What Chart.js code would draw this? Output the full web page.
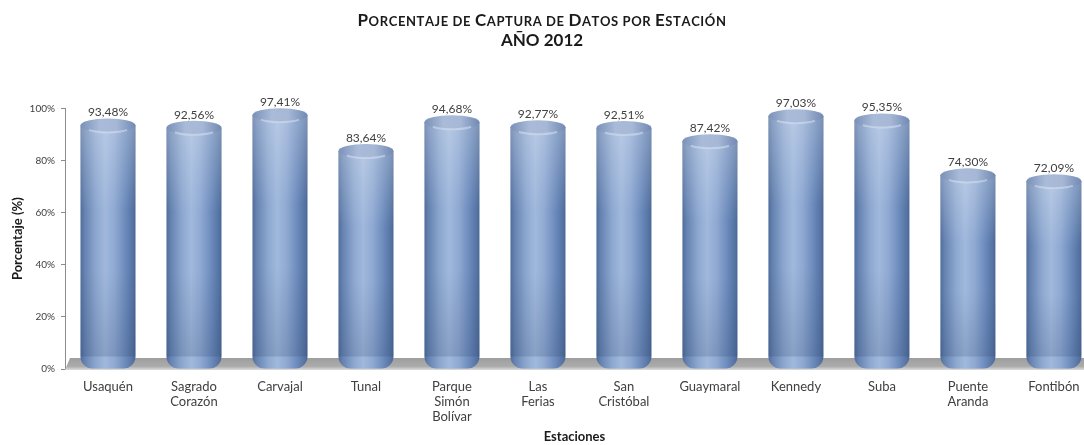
<!DOCTYPE html>
<html>
<head>
<meta charset="utf-8">
<script src="https://cdn.jsdelivr.net/npm/chart.js@4.4.1/dist/chart.umd.min.js"></script>
<style>
html,body{margin:0;padding:0;background:#fff;overflow:hidden;}
#wrap{width:1084px;height:445px;}
</style>
</head>
<body>
<div id="wrap"><canvas id="c" width="1084" height="445"></canvas></div>
<script>
const categories = ['Usaquén', ['Sagrado','Corazón'], 'Carvajal', 'Tunal', ['Parque','Simón','Bolívar'], ['Las','Ferias'], ['San','Cristóbal'], 'Guaymaral', 'Kennedy', 'Suba', ['Puente','Aranda'], 'Fontibón'];
const captura = [93.48, 92.56, 97.41, 83.64, 94.68, 92.77, 92.51, 87.42, 97.03, 95.35, 74.30, 72.09];
const yTicks = [0, 20, 40, 60, 80, 100];
const titleText = 'Porcentaje de Captura de Datos por Estación';
const subtitleText = 'AÑO 2012';
const xTitle = 'Estaciones';
const yTitle = 'Porcentaje (%)';

const FONT = 'Lato';
const CAP_RY = 7;
const BAR_FRAC = 0.64;

function fmt(v){ return v.toFixed(2).replace('.', ',') + '%'; }

function barGradient(ctx, x0, x1){
  const g = ctx.createLinearGradient(x0, 0, x1, 0);
  g.addColorStop(0, '#4f6d9b');
  g.addColorStop(0.08, '#6683b1');
  g.addColorStop(0.28, '#8ca7cf');
  g.addColorStop(0.45, '#a0b8dc');
  g.addColorStop(0.62, '#8fa9d2');
  g.addColorStop(0.82, '#6b8abb');
  g.addColorStop(0.95, '#5574a4');
  g.addColorStop(1, '#4a6794');
  return g;
}

// Small-caps title drawn as real text
const titlePlugin = {
  id: 'scTitle',
  afterDraw(chart){
    const {ctx} = chart;
    const big = 17, small = 13, spacing = 0.6;
    const runs = [];
    for (const ch of titleText) {
      const up = ch.toUpperCase();
      const size = (ch === up && ch !== ch.toLowerCase()) ? big : small;
      const last = runs[runs.length - 1];
      if (last && last.size === size) last.text += up; else runs.push({text: up, size});
    }
    ctx.save();
    ctx.fillStyle = '#1a1a1a';
    ctx.textBaseline = 'alphabetic';
    ctx.textAlign = 'left';
    let total = 0;
    runs.forEach(r => {
      ctx.font = 'bold ' + r.size + 'px ' + FONT;
      r.chars = [...r.text].map(c => ({c, w: ctx.measureText(c).width + spacing}));
      r.w = r.chars.reduce((a, b) => a + b.w, 0);
      total += r.w;
    });
    let x = chart.width / 2 - total / 2;
    runs.forEach(r => {
      ctx.font = 'bold ' + r.size + 'px ' + FONT;
      r.chars.forEach(o => { ctx.fillText(o.c, x, 25.5); x += o.w; });
    });
    ctx.restore();
  }
};

const floorPlugin = {
  id: 'floor',
  beforeDatasetsDraw(chart){
    const {ctx, chartArea, scales} = chart;
    const y0 = scales.y.getPixelForValue(0);
    ctx.save();
    const g = ctx.createLinearGradient(0, y0 - 11, 0, y0 + 1);
    g.addColorStop(0, '#9e9e9e');
    g.addColorStop(0.7, '#ababab');
    g.addColorStop(0.85, '#c4c4c4');
    g.addColorStop(1, '#dcdcdc');
    ctx.fillStyle = g;
    ctx.beginPath();
    ctx.moveTo(chartArea.left + 5, y0 - 11);
    ctx.lineTo(chartArea.right, y0 - 11);
    ctx.lineTo(chartArea.right, y0 + 1);
    ctx.lineTo(chartArea.left, y0 + 1);
    ctx.closePath();
    ctx.fill();
    ctx.restore();
  }
};

const cylinderPlugin = {
  id: 'cylinder',
  afterDatasetsDraw(chart){
    const {ctx} = chart;
    const meta = chart.getDatasetMeta(0);
    ctx.save();
    meta.data.forEach((el, i) => {
      const x = el.x, y = el.y, w = el.width, base = el.base;
      const left = x - w/2, right = x + w/2;
      const vg = ctx.createLinearGradient(0, y, 0, base);
      vg.addColorStop(0, 'rgba(235,240,248,0.30)');
      vg.addColorStop(0.35, 'rgba(235,240,248,0.0)');
      vg.addColorStop(0.6, 'rgba(30,50,90,0.0)');
      vg.addColorStop(1, 'rgba(30,50,90,0.2)');
      ctx.fillStyle = vg;
      ctx.fillRect(left, y, w, base - y - 12);
      const cg = ctx.createLinearGradient(left, 0, right, 0);
      cg.addColorStop(0, '#7990b8');
      cg.addColorStop(0.35, '#a9bbd8');
      cg.addColorStop(0.65, '#a6b8d6');
      cg.addColorStop(1, '#7189b3');
      ctx.fillStyle = cg;
      ctx.beginPath();
      ctx.ellipse(x, y, w/2, CAP_RY, 0, 0, Math.PI * 2);
      ctx.fill();
      ctx.strokeStyle = 'rgba(215,226,244,0.55)';
      ctx.lineWidth = 2;
      ctx.beginPath();
      ctx.ellipse(x, y + 1, w/2 - 4, CAP_RY - 1, 0, 0.2 * Math.PI, 0.8 * Math.PI);
      ctx.stroke();
      ctx.fillStyle = '#404040';
      ctx.font = '12px ' + FONT;
      ctx.textAlign = 'center';
      ctx.textBaseline = 'bottom';
      ctx.fillText(fmt(captura[i]), x, y - CAP_RY);
    });
    ctx.restore();
  }
};

const chart = new Chart(document.getElementById('c'), {
  type: 'bar',
  data: {
    datasets: [{
      data: captura.map((v, i) => ({x: i, y: v})),
      backgroundColor: (c) => {
        const xs = c.chart.scales && c.chart.scales.x;
        if (!xs || !c.raw) return '#7d9ccb';
        const cx = xs.getPixelForValue(c.raw.x);
        const w = Math.abs(xs.getPixelForValue(1) - xs.getPixelForValue(0)) * BAR_FRAC;
        if (!isFinite(cx) || !isFinite(w)) return '#7d9ccb';
        return barGradient(c.chart.ctx, cx - w/2, cx + w/2);
      },
      borderWidth: 0,
      borderSkipped: false,
      borderRadius: {topLeft: 0, topRight: 0, bottomLeft: 12, bottomRight: 12},
      barPercentage: BAR_FRAC,
      categoryPercentage: 1
    }]
  },
  options: {
    responsive: false,
    animation: false,
    events: [],
    layout: {padding: {left: 0, right: 0, top: 30, bottom: 0}},
    plugins: {
      legend: {display: false},
      tooltip: {enabled: false},
      title: {display: false},
      subtitle: {
        display: true,
        text: subtitleText,
        color: '#1a1a1a',
        font: {family: FONT, size: 17, weight: 'bold'},
        padding: {top: 0, bottom: 58}
      }
    },
    scales: {
      x: {
        type: 'linear',
        offset: false,
        min: -0.5,
        max: 11.35,
        afterBuildTicks: (s) => { s.ticks = categories.map((_, i) => ({value: i})); },
        afterFit: (s) => { s.height = 76; },
        grid: {display: false, offset: false},
        border: {display: false},
        ticks: {
          autoSkip: false,
          maxRotation: 0,
          padding: 2,
          color: '#404040',
          font: {family: FONT, size: 13, lineHeight: 1.15},
          callback: (v) => categories[v]
        },
        title: {
          display: true,
          text: xTitle,
          color: '#1a1a1a',
          font: {family: FONT, size: 13, weight: 'bold'},
          padding: {top: 0, bottom: 0}
        }
      },
      y: {
        min: 0,
        max: 100,
        afterBuildTicks: (s) => { s.ticks = yTicks.map(v => ({value: v})); },
        afterFit: (s) => { s.width = 65; },
        grid: {display: true, drawOnChartArea: false, drawTicks: true, tickLength: 4, color: '#8c8c8c'},
        border: {display: true, color: '#8c8c8c', width: 1},
        ticks: {
          padding: 6,
          color: '#404040',
          font: {family: FONT, size: 10},
          callback: (v) => v + '%'
        },
        title: {
          display: true,
          text: yTitle,
          color: '#1a1a1a',
          font: {family: FONT, size: 13, weight: 'bold'},
          padding: {top: 10, bottom: 0}
        }
      }
    }
  },
  plugins: [floorPlugin, cylinderPlugin, titlePlugin]
});
</script>
</body>
</html>
